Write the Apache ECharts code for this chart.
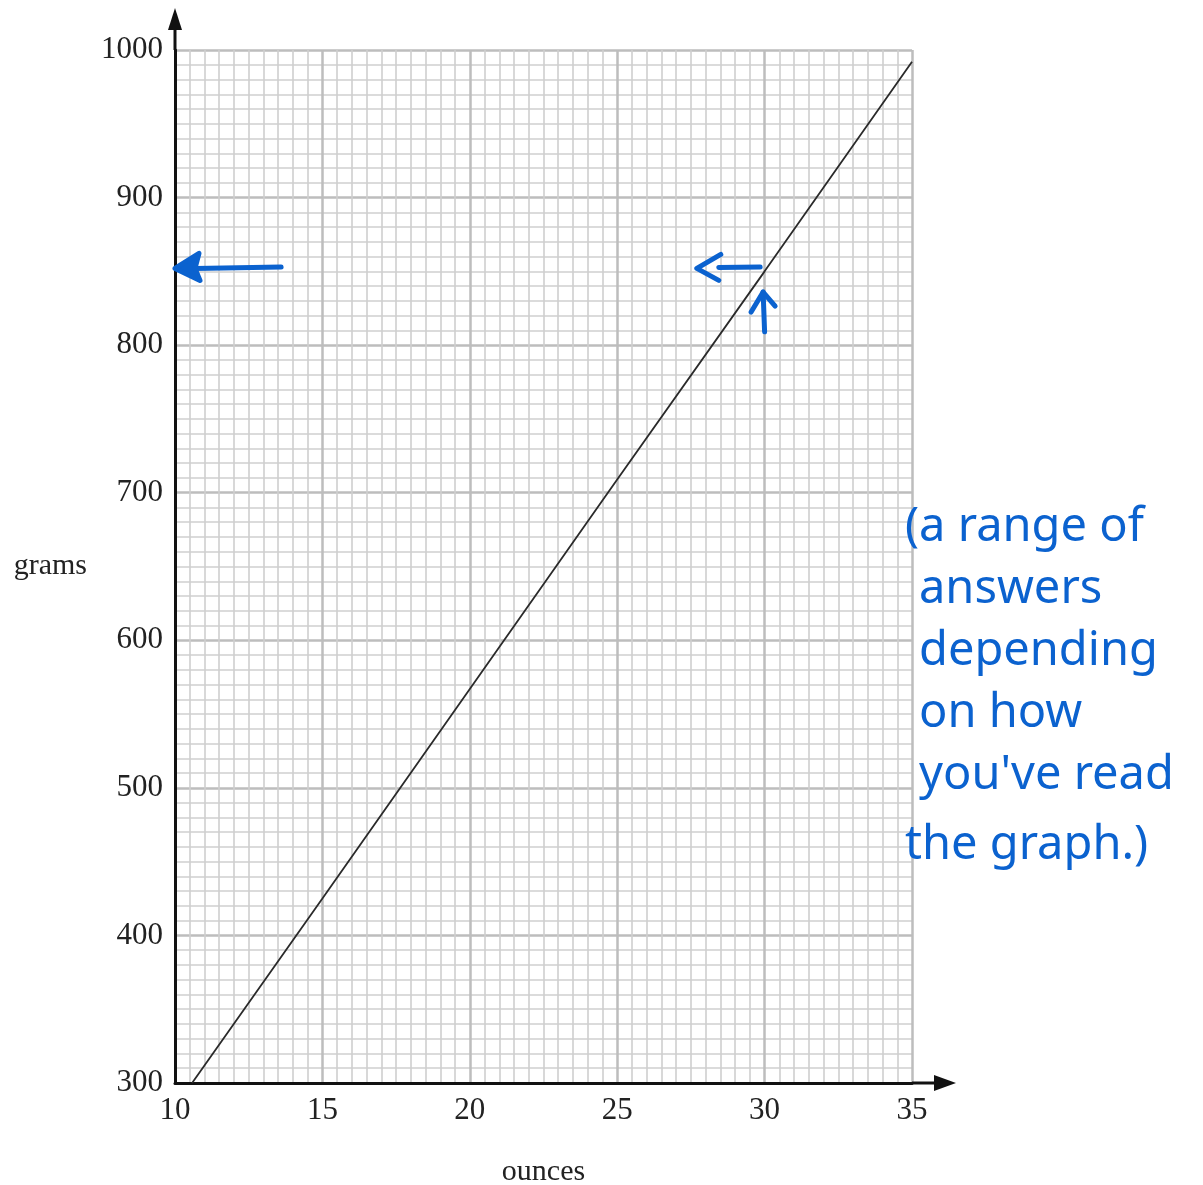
<!DOCTYPE html>
<html>
<head>
<meta charset="utf-8">
<script src="https://cdn.jsdelivr.net/npm/echarts@6/dist/echarts.min.js"></script>
<style>
  html, body { margin: 0; padding: 0; background: #fff; }
  #chart { width: 1203px; height: 1185px; }
</style>
</head>
<body>
<div id="chart"></div>
<script>
// conversion line ounces -> grams
const ounces = [10.58, 15, 20, 25, 30, 35];
const grams = [300, 425, 567, 709, 850, 992];

// axis ranges / ticks
const xRange = [10, 35, 5];
const yRange = [300, 1000, 100];

// handwritten notes (blue ink)
const noteLines = ['(a range of', 'answers', 'depending', 'on how', "you've read", 'the graph.)'];
// reading arrows, data coords [ounces, grams]
const readFrom = [29.85, 853];
const readTo = [27.7, 852];
const upFrom = [30.0, 809];
const upTo = [29.95, 836];
const bigFrom = [13.6, 853];
const bigTo = [10.0, 852];

const ink = '#0b62cf';
const serif = '"Liberation Serif", "DejaVu Serif", serif';

const myChart = echarts.init(document.getElementById('chart'));

const option = {
    backgroundColor: '#fff',
    animation: false,
    grid: {
        left: 175,
        top: 50,
        width: 737,
        height: 1033,
        outerBoundsMode: 'none'
    },
    xAxis: {
        type: 'value',
        min: xRange[0],
        max: xRange[1],
        interval: xRange[2],
        name: 'ounces',
        nameLocation: 'middle',
        nameGap: 74,
        nameTextStyle: { fontFamily: serif, fontSize: 30, color: '#222' },
        axisLine: { show: true, onZero: false, lineStyle: { color: '#111', width: 3 } },
        axisTick: { show: false },
        axisLabel: { fontFamily: serif, fontSize: 31, color: '#222', margin: 12 },
        splitLine: { show: true, lineStyle: { color: '#bdbdbd', width: 2.5 } },
        minorTick: { show: false, splitNumber: 10 },
        minorSplitLine: { show: true, lineStyle: { color: '#cfcfcf', width: 1.6 } }
    },
    yAxis: {
        type: 'value',
        min: yRange[0],
        max: yRange[1],
        interval: yRange[2],
        name: 'grams',
        nameLocation: 'middle',
        nameRotate: 0,
        nameGap: 88,
        nameTextStyle: { fontFamily: serif, fontSize: 30, color: '#222' },
        axisLine: { show: true, onZero: false, lineStyle: { color: '#111', width: 3 } },
        axisTick: { show: false },
        axisLabel: { fontFamily: serif, fontSize: 31, color: '#222', margin: 12, formatter: v => String(v) },
        splitLine: { show: true, lineStyle: { color: '#bdbdbd', width: 2.5 } },
        minorTick: { show: false, splitNumber: 10 },
        minorSplitLine: { show: true, lineStyle: { color: '#cfcfcf', width: 1.6 } }
    },
    series: [
        {
            type: 'line',
            data: ounces.map((o, i) => [o, grams[i]]),
            showSymbol: false,
            lineStyle: { color: '#2a2a2a', width: 1.8 },
            z: 5
        }
    ]
};

myChart.setOption(option);

// extra drawing: axis arrows beyond the grid, blue ink annotations
function px(p) {
    return myChart.convertToPixel({ gridIndex: 0 }, p);
}
const origin = px([xRange[0], yRange[0]]);
const topLeft = px([xRange[0], yRange[1]]);
const bottomRight = px([xRange[1], yRange[0]]);

const inkLine = { stroke: ink, lineWidth: 5, lineCap: 'round', lineJoin: 'round', fill: null };

const a = px(bigFrom), b = px(bigTo);
const c = px(readFrom), d = px(readTo);
const e = px(upFrom), f = px(upTo);

const graphics = [
    // y axis extension + arrow
    { type: 'line', shape: { x1: origin[0], y1: topLeft[1], x2: origin[0], y2: topLeft[1] - 30 },
      style: { stroke: '#111', lineWidth: 3 }, z: 10 },
    { type: 'polygon', shape: { points: [[origin[0], topLeft[1] - 42], [origin[0] - 7, topLeft[1] - 20], [origin[0] + 7, topLeft[1] - 20]] },
      style: { fill: '#111' }, z: 10 },
    // x axis extension + arrow
    { type: 'line', shape: { x1: bottomRight[0], y1: origin[1], x2: bottomRight[0] + 28, y2: origin[1] },
      style: { stroke: '#111', lineWidth: 3 }, z: 10 },
    { type: 'polygon', shape: { points: [[bottomRight[0] + 44, origin[1]], [bottomRight[0] + 22, origin[1] - 8], [bottomRight[0] + 22, origin[1] + 8]] },
      style: { fill: '#111' }, z: 10 },
    // big arrow to the y axis
    { type: 'polyline', shape: { points: [a, [b[0] + 20, b[1]]] }, style: inkLine, z: 20 },
    { type: 'polygon', shape: { points: [[b[0], b[1]], [b[0] + 24, b[1] - 15], [b[0] + 20, b[1]], [b[0] + 25, b[1] + 12]] },
      style: { fill: ink, stroke: ink, lineWidth: 5, lineJoin: 'round' }, z: 20 },
    // small left arrow
    { type: 'polyline', shape: { points: [c, [d[0] + 22, d[1] - 1]] }, style: inkLine, z: 20 },
    { type: 'polyline', shape: { points: [[d[0] + 24, d[1] - 14], d, [d[0] + 22, d[1] + 12]] }, style: inkLine, z: 20 },
    // small up arrow
    { type: 'polyline', shape: { points: [e, f] }, style: inkLine, z: 20 },
    { type: 'polyline', shape: { points: [[f[0] - 12, f[1] + 20], f, [f[0] + 12, f[1] + 14]] }, style: inkLine, z: 20 }
];

noteLines.forEach((t, i) => {
    graphics.push({
        type: 'text',
        left: 905 + (i === 0 || i === 5 ? 0 : 14),
        top: 504 + i * 62 + (i === 5 ? 8 : 0),
        style: { text: t, fill: ink, fontFamily: '"Noto Sans", sans-serif', fontSize: 47 },
        z: 20
    });
});

myChart.setOption({ graphic: graphics });
</script>
</body>
</html>
